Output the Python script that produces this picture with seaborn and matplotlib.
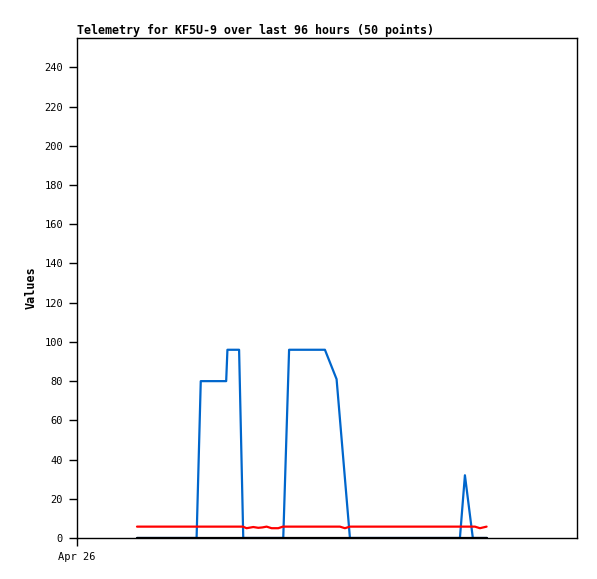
import matplotlib
matplotlib.use("Agg")
import matplotlib.pyplot as plt
import seaborn as sns

# hours since Apr 26 00:00
blue_t = [14.4, 28.7, 29.7, 35.8, 36.1, 38.9, 39.9, 49.5, 50.9, 59.5, 62.3, 65.5, 91.9, 93.1, 95.0, 98.4]
blue_v = [0, 0, 80, 80, 96, 96, 0, 0, 96, 96, 81, 0, 0, 32, 0, 0]

red_t = [14.4, 39.8, 40.7, 42.3, 43.5, 44.5, 45.5, 46.7, 48.3, 49.4, 63.1, 64.3, 65.5, 95.5, 96.7, 98.3]
red_v = [5.8, 5.8, 5.0, 5.6, 5.2, 5.4, 5.8, 5.0, 5.0, 5.8, 5.8, 5.0, 5.8, 5.8, 5.0, 5.8]

black_t = [14.4, 98.4]
black_v = [0, 0]

y_ticks = list(range(0, 241, 20))

sns.set_style("white")
plt.rcParams['font.family'] = ['DejaVu Sans Mono']
plt.rcParams['text.color'] = 'black'
plt.rcParams['xtick.color'] = 'black'
plt.rcParams['ytick.color'] = 'black'
plt.rcParams['axes.labelcolor'] = 'black'

fig = plt.figure(figsize=(5.97, 5.79), dpi=100)
ax = fig.add_axes([0.129, 0.0708, 0.8375, 0.8636])

lw = 1.6
sns.lineplot(x=blue_t, y=blue_v, color="#0066cc", linewidth=lw, ax=ax, estimator=None, sort=False)
sns.lineplot(x=red_t, y=red_v, color="#ff0000", linewidth=lw, ax=ax, estimator=None, sort=False)
sns.lineplot(x=black_t, y=black_v, color="black", linewidth=lw, ax=ax, estimator=None, sort=False)

ax.set_xlim(0, 120)
ax.set_ylim(0, 255)
ax.set_yticks(y_ticks)
ax.set_yticklabels([str(v) for v in y_ticks], fontsize=7.5)
ax.set_xticks([0])
ax.set_xticklabels(["Apr 26"], fontsize=7.5)
ax.tick_params(left=True, bottom=True, direction="out", length=6, width=1, color="black", pad=4)
ax.tick_params(axis="x", pad=4)

for s in ax.spines.values():
    s.set_color("black")
    s.set_linewidth(1)

ax.set_ylabel("Values", fontsize=8.5, fontweight="bold", labelpad=5)
ax.set_xlabel("")
ax.set_title("Telemetry for KF5U-9 over last 96 hours (50 points)", loc="left",
             fontsize=8.4, fontweight="bold", pad=3)

fig.savefig("out.png", dpi=100)
